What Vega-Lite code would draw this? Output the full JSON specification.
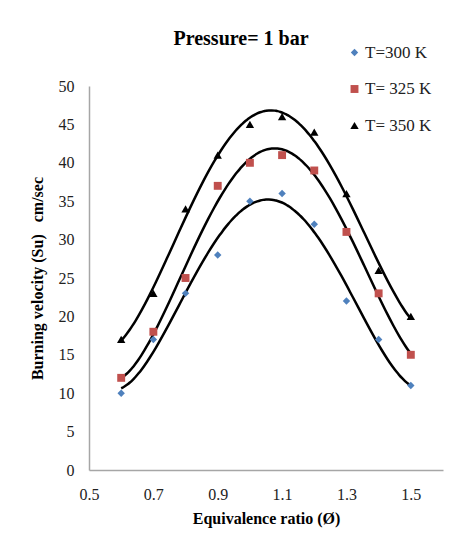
{
  "$schema": "https://vega.github.io/schema/vega-lite/v6.json",
  "width": 354,
  "height": 384,
  "autosize": {"type": "none"},
  "padding": {"left": 89, "top": 86, "right": 11, "bottom": 67},
  "background": "white",
  "config": {
    "view": {"stroke": null},
    "font": "Liberation Serif"
  },
  "title": {
    "text": "Pressure= 1 bar",
    "font": "Liberation Serif",
    "fontSize": 20,
    "fontWeight": "bold",
    "color": "black",
    "anchor": "middle",
    "dx": -25,
    "offset": -5
  },
  "data": {
    "values": [
      {"phi": 0.6, "su": 10, "series": "T=300 K"},
      {"phi": 0.7, "su": 17, "series": "T=300 K"},
      {"phi": 0.8, "su": 23, "series": "T=300 K"},
      {"phi": 0.9, "su": 28, "series": "T=300 K"},
      {"phi": 1.0, "su": 35, "series": "T=300 K"},
      {"phi": 1.1, "su": 36, "series": "T=300 K"},
      {"phi": 1.2, "su": 32, "series": "T=300 K"},
      {"phi": 1.3, "su": 22, "series": "T=300 K"},
      {"phi": 1.4, "su": 17, "series": "T=300 K"},
      {"phi": 1.5, "su": 11, "series": "T=300 K"},
      {"phi": 0.6, "su": 12, "series": "T= 325 K"},
      {"phi": 0.7, "su": 18, "series": "T= 325 K"},
      {"phi": 0.8, "su": 25, "series": "T= 325 K"},
      {"phi": 0.9, "su": 37, "series": "T= 325 K"},
      {"phi": 1.0, "su": 40, "series": "T= 325 K"},
      {"phi": 1.1, "su": 41, "series": "T= 325 K"},
      {"phi": 1.2, "su": 39, "series": "T= 325 K"},
      {"phi": 1.3, "su": 31, "series": "T= 325 K"},
      {"phi": 1.4, "su": 23, "series": "T= 325 K"},
      {"phi": 1.5, "su": 15, "series": "T= 325 K"},
      {"phi": 0.6, "su": 17, "series": "T= 350 K"},
      {"phi": 0.7, "su": 23, "series": "T= 350 K"},
      {"phi": 0.8, "su": 34, "series": "T= 350 K"},
      {"phi": 0.9, "su": 41, "series": "T= 350 K"},
      {"phi": 1.0, "su": 45, "series": "T= 350 K"},
      {"phi": 1.1, "su": 46, "series": "T= 350 K"},
      {"phi": 1.2, "su": 44, "series": "T= 350 K"},
      {"phi": 1.3, "su": 36, "series": "T= 350 K"},
      {"phi": 1.4, "su": 26, "series": "T= 350 K"},
      {"phi": 1.5, "su": 20, "series": "T= 350 K"}
    ]
  },
  "encoding": {
    "x": {
      "field": "phi",
      "type": "quantitative",
      "scale": {"domain": [0.5, 1.6], "nice": false, "zero": false},
      "axis": {
        "title": "Equivalence ratio (Ø)",
        "values": [0.5, 0.7, 0.9, 1.1, 1.3, 1.5],
        "format": ".1f",
        "grid": false,
        "ticks": false,
        "domainColor": "#A6A6A6",
        "domainWidth": 1.5,
        "labelFont": "Liberation Serif",
        "labelFontSize": 16,
        "labelColor": "#222222",
        "labelPadding": 16,
        "labelFlush": false,
        "titleFont": "Liberation Serif",
        "titleFontSize": 16,
        "titleFontWeight": "bold",
        "titleColor": "black",
        "titlePadding": 8
      }
    },
    "y": {
      "field": "su",
      "type": "quantitative",
      "scale": {"domain": [0, 50], "nice": false},
      "axis": {
        "title": "Burning velocity (Su)\u00a0\u00a0\u00a0cm/sec",
        "values": [0, 5, 10, 15, 20, 25, 30, 35, 40, 45, 50],
        "grid": false,
        "ticks": false,
        "domainColor": "#A6A6A6",
        "domainWidth": 1.5,
        "labelFont": "Liberation Serif",
        "labelFontSize": 16,
        "labelColor": "#222222",
        "labelPadding": 15,
        "labelFlush": false,
        "titleFont": "Liberation Serif",
        "titleFontSize": 16,
        "titleFontWeight": "bold",
        "titleColor": "black",
        "titlePadding": 13
      }
    }
  },
  "layer": [
    {
      "transform": [
        {"regression": "su", "on": "phi", "groupby": ["series"], "method": "poly", "order": 4, "extent": [0.6, 1.5]}
      ],
      "mark": {"type": "line", "color": "black", "strokeWidth": 2.5, "interpolate": "monotone"},
      "encoding": {
        "detail": {"field": "series", "type": "nominal"}
      }
    },
    {
      "mark": {"type": "point", "filled": true, "opacity": 1},
      "encoding": {
        "color": {
          "field": "series",
          "type": "nominal",
          "scale": {"domain": ["T=300 K", "T= 325 K", "T= 350 K"], "range": ["#4F81BD", "#C0504D", "#000000"]},
          "legend": {
            "title": null,
            "orient": "none",
            "legendX": 257,
            "legendY": -42,
            "labelFont": "Liberation Serif",
            "labelFontSize": 17,
            "labelColor": "#222222",
            "labelOffset": 2,
            "rowPadding": 18.5,
            "symbolSize": 60,
            "padding": 0
          }
        },
        "shape": {
          "field": "series",
          "type": "nominal",
          "scale": {"domain": ["T=300 K", "T= 325 K", "T= 350 K"], "range": ["diamond", "square", "triangle-up"]}
        },
        "size": {
          "field": "series",
          "type": "nominal",
          "scale": {"domain": ["T=300 K", "T= 325 K", "T= 350 K"], "range": [55, 70, 70]},
          "legend": null
        }
      }
    }
  ]
}
